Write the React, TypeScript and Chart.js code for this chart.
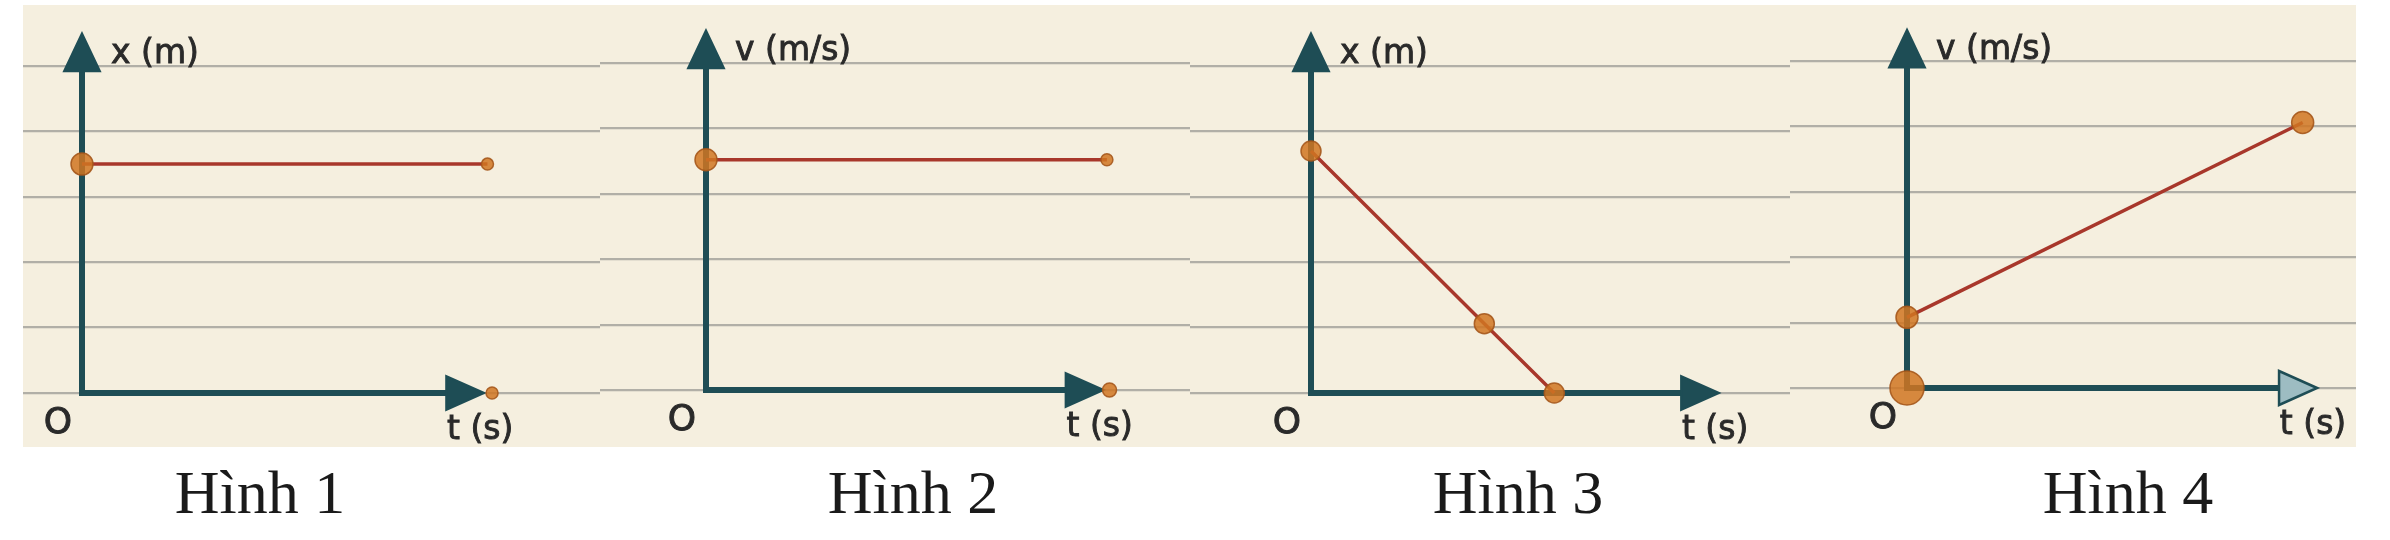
import React, { useEffect, useRef } from "react";
import { Chart, registerables } from "chart.js";

Chart.register(...registerables);

// ---------- data ----------
const RULED_LINES = [0, 1, 2, 3, 4, 5];

const FIG1_T = [0, 6.2];
const FIG1_X = [3.5, 3.5];
const FIG1_AXIS_DOT_T = [6.27];

const FIG2_T = [0, 6.13];
const FIG2_V = [3.52, 3.52];
const FIG2_AXIS_DOT_T = [6.17];

const FIG3_T = [0, 2.65, 3.72];
const FIG3_X = [3.7, 1.06, 0];

const FIG4_T = [0, 6.05];
const FIG4_V = [1.08, 4.06];
const FIG4_ORIGIN_DOT_T = [0];

const Y_LABELS = ["x (m)", "v (m/s)", "x (m)", "v (m/s)"];
const X_LABEL = "t (s)";
const ORIGIN_LABEL = "O";
const CAPTIONS = ["Hình 1", "Hình 2", "Hình 3", "Hình 4"];

// ---------- style / layout ----------
const PX_PER_UNIT = 65.4;
const PANEL_LEFT = 23;
const PANEL_TOP = 5;
const PANEL_W = 2333;
const PANEL_H = 442;
const CREAM = "#f5efdf";
const AXIS_COLOR = "#1e4d55";
const LINE_COLOR = "#a8372b";
const DOT_FILL = "rgba(208,118,34,0.85)";
const DOT_BORDER = "rgba(165,88,28,0.9)";
const RULE_COLOR = "rgba(135,135,132,0.62)";
const LABEL_COLOR = "#2a2a2a";

type Fig = {
  left: number;
  width: number;
  originX: number; // page px
  originY: number; // page px
  xArrow: number;
  yArrow: number;
  lightArrow?: boolean;
  yLabel: string;
  caption: string;
  captionX: number;
  datasets: any[];
};

const pts = (t: number[], v: number[]) => t.map((x, i) => ({ x, y: v[i] }));

const lineDs = (t: number[], v: number[], radii: number[]) => ({
  data: pts(t, v),
  borderColor: LINE_COLOR,
  borderWidth: 3.5,
  pointRadius: radii,
  pointBackgroundColor: DOT_FILL,
  pointBorderColor: DOT_BORDER,
  pointBorderWidth: 1.5,
  tension: 0,
  fill: false,
  clip: false,
});

const dotDs = (t: number[], v: number[], r: number) => ({
  data: pts(t, v),
  showLine: false,
  pointRadius: r,
  pointBackgroundColor: DOT_FILL,
  pointBorderColor: DOT_BORDER,
  pointBorderWidth: 1.5,
  clip: false,
});

const FIGS: Fig[] = [
  {
    left: 23, width: 577, originX: 82, originY: 393, xArrow: 6.15, yArrow: 5.5,
    yLabel: Y_LABELS[0], caption: CAPTIONS[0], captionX: 260,
    datasets: [lineDs(FIG1_T, FIG1_X, [11, 6]), dotDs(FIG1_AXIS_DOT_T, [0], 6)],
  },
  {
    left: 600, width: 590, originX: 706, originY: 390, xArrow: 6.08, yArrow: 5.5,
    yLabel: Y_LABELS[1], caption: CAPTIONS[1], captionX: 913,
    datasets: [lineDs(FIG2_T, FIG2_V, [11, 6]), dotDs(FIG2_AXIS_DOT_T, [0], 7)],
  },
  {
    left: 1190, width: 600, originX: 1311, originY: 393, xArrow: 6.24, yArrow: 5.5,
    yLabel: Y_LABELS[2], caption: CAPTIONS[2], captionX: 1518,
    datasets: [lineDs(FIG3_T, FIG3_X, [10, 10, 10])],
  },
  {
    left: 1790, width: 566, originX: 1907, originY: 388, xArrow: 6.27, yArrow: 5.48, lightArrow: true,
    yLabel: Y_LABELS[3], caption: CAPTIONS[3], captionX: 2128,
    datasets: [lineDs(FIG4_T, FIG4_V, [11, 11]), dotDs(FIG4_ORIGIN_DOT_T, [0], 17)],
  },
];

function makePlugin(fig: Fig) {
  return {
    id: "axesArrows",
    beforeDatasetsDraw(chart: any) {
      const { ctx } = chart;
      const xs = chart.scales.x;
      const ys = chart.scales.y;
      const ox = xs.getPixelForValue(0);
      const oy = ys.getPixelForValue(0);
      const yTop = ys.getPixelForValue(fig.yArrow);
      const xEnd = xs.getPixelForValue(fig.xArrow);
      const headLen = 38;
      const headHalf = 18;
      ctx.save();
      ctx.strokeStyle = AXIS_COLOR;
      ctx.lineWidth = 6;
      ctx.lineJoin = "miter";
      ctx.lineCap = "butt";
      ctx.beginPath();
      ctx.moveTo(ox, yTop + headLen - 4);
      ctx.lineTo(ox, oy);
      ctx.lineTo(xEnd - headLen + 4, oy);
      ctx.stroke();
      // vertical arrowhead
      ctx.fillStyle = AXIS_COLOR;
      ctx.beginPath();
      ctx.moveTo(ox, yTop);
      ctx.lineTo(ox - headHalf, yTop + headLen);
      ctx.lineTo(ox + headHalf, yTop + headLen);
      ctx.closePath();
      ctx.lineWidth = 2;
      ctx.fill();
      ctx.stroke();
      // horizontal arrowhead
      ctx.beginPath();
      ctx.moveTo(xEnd, oy);
      ctx.lineTo(xEnd - headLen, oy - headHalf + 1);
      ctx.lineTo(xEnd - headLen, oy + headHalf - 1);
      ctx.closePath();
      ctx.fillStyle = fig.lightArrow ? "#9dbcc2" : AXIS_COLOR;
      ctx.fill();
      ctx.strokeStyle = AXIS_COLOR;
      ctx.lineWidth = fig.lightArrow ? 2.5 : 2;
      ctx.stroke();
      ctx.restore();
    },
    afterDraw(chart: any) {
      const { ctx } = chart;
      const xs = chart.scales.x;
      const ys = chart.scales.y;
      const ox = xs.getPixelForValue(0);
      const oy = ys.getPixelForValue(0);
      const yTop = ys.getPixelForValue(fig.yArrow);
      const xEnd = xs.getPixelForValue(fig.xArrow);
      const label = (txt: string, x: number, y: number) => {
        ctx.fillText(txt, x, y);
        ctx.strokeText(txt, x, y);
      };
      ctx.save();
      ctx.fillStyle = LABEL_COLOR;
      ctx.strokeStyle = LABEL_COLOR;
      ctx.lineWidth = 0.9;
      ctx.textBaseline = "middle";
      ctx.font = '33px "DejaVu Sans"';
      ctx.textAlign = "left";
      label(fig.yLabel, ox + 29, yTop + 21);
      ctx.textAlign = "center";
      label(X_LABEL, xEnd - 4, oy + 37);
      ctx.font = '36px "DejaVu Sans"';
      label(ORIGIN_LABEL, ox - 24, oy + 31);
      ctx.restore();
    },
  };
}

function Figure({ fig }: { fig: Fig }) {
  const ref = useRef<HTMLCanvasElement | null>(null);
  useEffect(() => {
    if (!ref.current) return;
    const offX = fig.originX - fig.left;
    const offY = fig.originY - PANEL_TOP;
    const chart = new Chart(ref.current, {
      type: "line",
      data: { datasets: fig.datasets },
      options: {
        animation: false,
        responsive: false,
        devicePixelRatio: 1,
        layout: { padding: 0, autoPadding: false },
        plugins: { legend: { display: false }, tooltip: { enabled: false }, title: { display: false } },
        scales: {
          x: {
            type: "linear",
            min: -offX / PX_PER_UNIT,
            max: (fig.width - offX) / PX_PER_UNIT,
            display: false,
          },
          y: {
            type: "linear",
            min: -(PANEL_H - offY) / PX_PER_UNIT,
            max: offY / PX_PER_UNIT,
            display: true,
            border: { display: false },
            ticks: { display: false },
            grid: { color: RULE_COLOR, lineWidth: 2.2, drawTicks: false },
            afterBuildTicks: (scale: any) => {
              scale.ticks = RULED_LINES.map((v) => ({ value: v }));
            },
          },
        },
      } as any,
      plugins: [makePlugin(fig)],
    });
    return () => chart.destroy();
  }, [fig]);
  return (
    <canvas
      ref={ref}
      width={fig.width}
      height={PANEL_H}
      style={{ position: "absolute", left: fig.left, top: PANEL_TOP, width: fig.width, height: PANEL_H }}
    />
  );
}

export default function App() {
  return (
    <div style={{ position: "absolute", left: 0, top: 0, width: 2390, height: 540, background: "#ffffff", overflow: "hidden" }}>
      <div style={{ position: "absolute", left: PANEL_LEFT, top: PANEL_TOP, width: PANEL_W, height: PANEL_H, background: CREAM }} />
      {FIGS.map((f, i) => (
        <Figure key={i} fig={f} />
      ))}
      {FIGS.map((f, i) => (
        <div
          key={"c" + i}
          style={{
            position: "absolute",
            left: f.captionX - 200,
            top: 461,
            width: 400,
            textAlign: "center",
            fontFamily: '"Liberation Serif", serif',
            fontSize: 62,
            lineHeight: "62px",
            color: "#1a1a1a",
            whiteSpace: "nowrap",
          }}
        >
          {f.caption}
        </div>
      ))}
    </div>
  );
}
